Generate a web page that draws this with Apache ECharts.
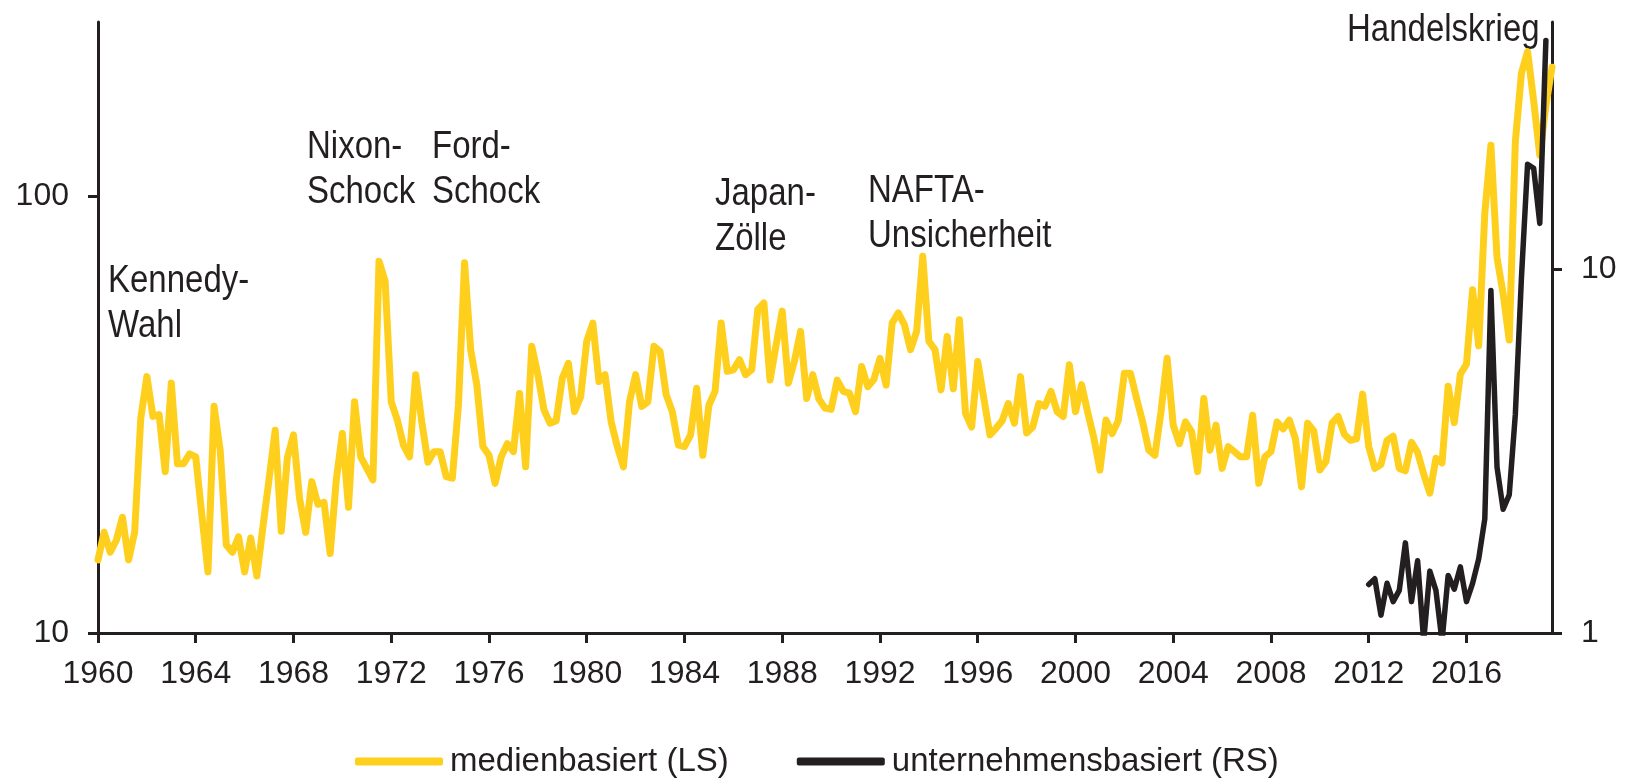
<!DOCTYPE html>
<html>
<head>
<meta charset="utf-8">
<title>Handelspolitische Unsicherheit</title>
<script src="https://cdn.jsdelivr.net/npm/echarts@6/dist/echarts.min.js"></script>
<style>
  html, body { margin: 0; padding: 0; background: #fff; }
  #chart { width: 1626px; height: 779px; }
</style>
</head>
<body>
<div id="chart"></div>
<script>
// quarterly values, media based index (left scale), starts 1960 Q1
const mediaStart = 1960
const media = [
  14.7, 17.0, 15.3, 16.3,  18.4, 14.7, 17.0, 31.0,  38.6, 31.3, 31.6, 23.4,  37.3, 24.4, 24.4, 25.7,
  25.3, 18.6, 13.8, 33.0,  26.2, 15.9, 15.3, 16.6,  13.8, 16.5, 13.5, 17.5,  22.5, 29.1, 17.1, 25.2,
  28.4, 20.3, 17.0, 22.2,  19.7, 19.9, 15.2, 22.4,  28.6, 19.4, 33.8, 25.3,  23.8, 22.4, 70.9, 63.8,
  33.8, 30.7, 26.9, 25.3,  39.0, 30.4, 24.6, 26.0,  26.0, 22.8, 22.6, 33.2,  70.3, 44.5, 37.0, 26.7,
  25.5, 22.0, 25.3, 27.1,  26.0, 35.3, 24.0, 45.3,  39.0, 32.4, 30.2, 30.6,  38.3, 41.4, 32.1, 34.7,
  46.5, 51.2, 37.6, 39.0,  30.4, 26.7, 24.0, 33.8,  39.0, 33.0, 33.8, 45.3,  44.1, 35.1, 32.1, 26.9,
  26.7, 28.4, 36.3, 25.5,  33.2, 35.7, 51.2, 39.7,  40.0, 42.2, 39.0, 40.0,  55.0, 56.9, 37.9, 45.6,
  54.5, 37.3, 41.9, 49.0,  34.4, 39.0, 34.3, 32.7,  32.5, 37.9, 35.7, 35.4,  32.1, 40.7, 36.6, 38.0,
  42.5, 36.9, 51.2, 54.0,  50.7, 44.5, 49.0, 72.8,  46.5, 44.5, 36.0, 47.7,  36.2, 52.1, 31.8, 29.6,
  41.8, 34.4, 28.4, 29.4,  30.6, 33.5, 30.2, 38.6,  28.7, 29.6, 33.5, 33.0,  35.7, 32.1, 31.3, 41.1,
  32.1, 37.0, 32.0, 28.0,  23.6, 30.7, 28.6, 30.6,  39.3, 39.3, 34.4, 30.4,  26.2, 25.5, 32.1, 42.5,
  29.9, 27.1, 30.4, 28.9,  23.4, 34.4, 26.2, 29.9,  23.8, 26.7, 26.0, 25.3,  25.3, 31.5, 22.0, 25.3,
  26.0, 30.4, 29.3, 30.7,  27.8, 21.6, 30.2, 29.0,  23.6, 24.7, 30.2, 31.3,  28.5, 27.6, 27.8, 35.2,
  26.7, 23.8, 24.3, 27.6,  28.2, 23.8, 23.5, 27.3,  25.9, 23.1, 20.9, 25.1,  24.5, 36.7, 30.3, 39.1,
  41.2, 61.0, 45.4, 91.2,  130.6, 72.3, 59.7, 46.8,  133, 191, 214, 165,  124, 161, 197
]

// quarterly values, firm based index (right scale), starts 2012 Q1
const firmStart = 2012
const firms = [
  1.36, 1.41, 1.12, 1.37,  1.22, 1.31, 1.77, 1.22,  1.58, 0.95, 1.48, 1.31,
  0.95, 1.44, 1.32, 1.52,  1.22, 1.37, 1.6, 2.06,  8.76, 2.86, 2.19, 2.4,
  4.0, 9.5, 19.5, 19.0,  13.4, 42.7
]

const xTicks = [1960, 1964, 1968, 1972, 1976, 1980, 1984, 1988, 1992, 1996, 2000, 2004, 2008, 2012, 2016]
const leftTicks = [10, 100]
const rightTicks = [1, 10]

const names = ['medienbasiert (LS)', 'unternehmensbasiert (RS)']

const ink = '#231f20'
const yellow = '#FFCF1E'
const font = '"Liberation Sans", Arial, sans-serif'

const chart = echarts.init(document.getElementById('chart'))

function axisCommon(ticks) {
  return {
    axisLine: { show: true, onZero: false, lineStyle: { color: ink, width: 3 } },
    axisTick: { show: true, length: 10, customValues: ticks, lineStyle: { color: ink, width: 3 } },
    axisLabel: { customValues: ticks, color: ink, fontSize: 32, fontFamily: font, margin: 29 },
    splitLine: { show: false },
    minorTick: { show: false }
  }
}

// annotation text, slightly stretched vertically like the original
const annotation = (left, top, text) => ({
  type: 'text',
  x: left,
  y: top,
  scaleY: 1.15,
  style: { text: text, fill: ink, font: '33px ' + font, lineHeight: 39 }
})

chart.setOption({
  animation: false,
  grid: { left: 98, right: 74, top: 22, bottom: 146, outerBoundsMode: 'none' },
  legend: {
    data: names,
    left: 355,
    top: 745,
    padding: 0,
    icon: 'roundRect',
    itemWidth: 88,
    itemHeight: 8,
    itemGap: 68,
    textStyle: { color: ink, fontSize: 33, fontFamily: font, padding: [0, 0, 0, 2] }
  },
  xAxis: Object.assign(axisCommon(xTicks), {
    type: 'value',
    min: 1960,
    max: 2019.5,
    interval: 4,
    axisLabel: {
      customValues: xTicks, color: ink, fontSize: 32, fontFamily: font, margin: 25,
      formatter: v => String(v)
    }
  }),
  yAxis: [
    Object.assign(axisCommon(leftTicks), { type: 'log', logBase: 10, min: 10, max: 250, position: 'left' }),
    Object.assign(axisCommon(rightTicks), { type: 'log', logBase: 10, min: 1, max: 48, position: 'right' })
  ],
  series: [
    {
      name: names[0],
      type: 'line',
      yAxisIndex: 0,
      data: media.map((v, i) => [mediaStart + i / 4, v]),
      showSymbol: false,
      clip: true,
      color: yellow,
      lineStyle: { color: yellow, width: 7, cap: 'round', join: 'round' }
    },
    {
      name: names[1],
      type: 'line',
      yAxisIndex: 1,
      data: firms.map((v, i) => [firmStart + i / 4, v]),
      showSymbol: false,
      clip: true,
      color: ink,
      lineStyle: { color: ink, width: 5.5, cap: 'round', join: 'round' }
    }
  ],
  graphic: [
    annotation(108, 259, 'Kennedy-\nWahl'),
    annotation(307, 125, 'Nixon-\nSchock'),
    annotation(432, 125, 'Ford-\nSchock'),
    annotation(715, 172, 'Japan-\nZölle'),
    annotation(868, 169, 'NAFTA-\nUnsicherheit'),
    annotation(1347, 8, 'Handelskrieg')
  ]
})
</script>
</body>
</html>
